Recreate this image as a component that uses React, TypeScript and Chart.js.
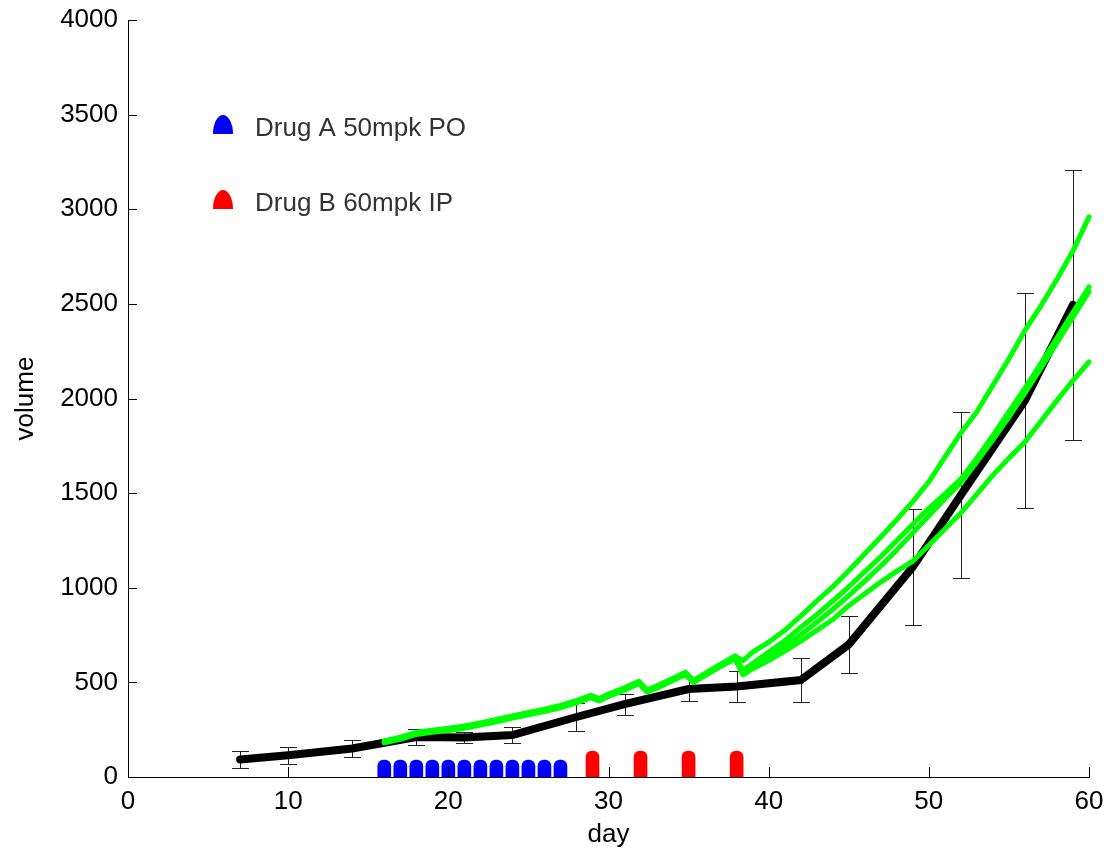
import React, { useEffect, useRef } from 'react';
import { Chart, registerables } from 'chart.js';

Chart.register(...registerables);

const FONT = "'Liberation Sans', Arial, Helvetica, sans-serif";

// ---- axis ticks ----
const xTickValues = [0, 10, 20, 30, 40, 50, 60];
const yTickValues = [0, 500, 1000, 1500, 2000, 2500, 3000, 3500, 4000];

// ---- mean tumour volume (black) with error bars ----
const meanDays = [7, 10, 14, 18, 21, 24, 28, 31, 35, 38, 42, 45, 49, 52, 56, 59];
const meanVol = [93, 115, 151, 211, 209, 222, 317, 385, 465, 478, 512, 700, 1110, 1490, 1990, 2495];
const meanErr = [45, 45, 45, 42, 29, 42, 76, 55, 65, 80, 117, 152, 307, 440, 570, 715];

// ---- model curves (green) ----
const greenDays = [
  16, 17, 18, 19, 20, 21, 22, 23, 24, 25, 26, 27, 28, 28.9, 29.4, 30, 31, 31.9, 32.4, 33, 34, 34.8, 35.3, 36, 37, 37.9,
  38.4, 39, 40, 41, 42, 43, 44, 45, 46, 47, 48, 49, 50, 51, 52, 53, 54, 55, 56, 57, 58, 59, 60,
];
const greenTop = [
  190, 210, 236, 247, 258, 270, 286, 304, 323, 341, 358, 378, 404, 431, 414, 438, 471, 506, 461, 481, 521, 554, 511, 546, 596, 640,
  615, 660, 712, 775, 850, 930, 1005, 1090, 1180, 1268, 1360, 1455, 1560, 1690, 1818, 1930, 2070, 2210, 2360, 2490, 2630, 2780, 2960,
];
const greenMid1 = [
  186, 206, 232, 243, 253, 265, 281, 299, 318, 336, 353, 373, 399, 426, 409, 433, 466, 501, 456, 476, 516, 549, 506, 541, 591, 632,
  565, 600, 660, 720, 790, 858, 930, 1005, 1085, 1165, 1250, 1335, 1420, 1495, 1575, 1685, 1805, 1930, 2055, 2185, 2320, 2455, 2590,
];
const greenMid2 = [
  183, 203, 229, 240, 250, 262, 278, 296, 315, 333, 350, 370, 396, 423, 406, 430, 463, 498, 453, 473, 513, 546, 503, 538, 588, 628,
  550, 580, 630, 690, 752, 818, 885, 958, 1035, 1115, 1200, 1290, 1380, 1470, 1555, 1665, 1782, 1902, 2028, 2160, 2295, 2430, 2565,
];
const greenLow = [
  180, 199, 225, 236, 246, 258, 274, 292, 311, 329, 346, 366, 392, 419, 402, 426, 459, 494, 449, 469, 509, 542, 499, 534, 584, 624,
  540, 572, 615, 665, 718, 775, 832, 905, 968, 1030, 1088, 1140, 1225, 1310, 1395, 1495, 1595, 1685, 1770, 1880, 1990, 2095, 2193,
];

// ---- dosing markers ----
const drugADays = [16, 17, 18, 19, 20, 21, 22, 23, 24, 25, 26, 27];
const drugAHeight = [90, 90, 90, 90, 90, 90, 90, 90, 90, 90, 90, 90];
const drugBDays = [29, 32, 35, 38];
const drugBHeight = [137, 137, 137, 137];

// ---- legend ----
const legendLabels = ['Drug A 50mpk PO', 'Drug B 60mpk IP'];
const legendColors = ['#0000ff', '#ff0000'];

const toXY = (xs: number[], ys: number[]) => xs.map((x, i) => ({ x, y: ys[i] }));

const errorBarPlugin = {
  id: 'errorBars',
  beforeDatasetsDraw(chart: any) {
    const { ctx, scales } = chart;
    const x = scales.x;
    const y = scales.y;
    ctx.save();
    ctx.strokeStyle = '#222';
    ctx.lineWidth = 1;
    meanDays.forEach((d, i) => {
      const px = Math.round(x.getPixelForValue(d)) + 0.5;
      const top = Math.round(y.getPixelForValue(meanVol[i] + meanErr[i])) + 0.5;
      const bot = Math.round(y.getPixelForValue(meanVol[i] - meanErr[i])) + 0.5;
      ctx.beginPath();
      ctx.moveTo(px, top);
      ctx.lineTo(px, bot);
      ctx.moveTo(px - 8.5, top);
      ctx.lineTo(px + 8.5, top);
      ctx.moveTo(px - 8.5, bot);
      ctx.lineTo(px + 8.5, bot);
      ctx.stroke();
    });
    ctx.restore();
  },
};

const tickMarkPlugin = {
  id: 'inwardTicks',
  afterDraw(chart: any) {
    const { ctx, scales, chartArea } = chart;
    const x = scales.x;
    const y = scales.y;
    ctx.save();
    ctx.strokeStyle = '#000';
    ctx.lineWidth = 1;
    ctx.beginPath();
    x.ticks.forEach((t: any) => {
      const px = Math.round(x.getPixelForValue(t.value)) + 0.5;
      ctx.moveTo(px, chartArea.bottom);
      ctx.lineTo(px, chartArea.bottom - 10);
    });
    y.ticks.forEach((t: any) => {
      const py = Math.round(y.getPixelForValue(t.value)) + 0.5;
      ctx.moveTo(chartArea.left, py);
      ctx.lineTo(chartArea.left + 9, py);
    });
    ctx.stroke();
    ctx.restore();
  },
};

const legendPlugin = {
  id: 'customLegend',
  afterDraw(chart: any) {
    const { ctx, chartArea } = chart;
    ctx.save();
    legendLabels.forEach((label, i) => {
      const baseY = chartArea.top + 114 + i * 75;
      const cx = chartArea.left + 95;
      ctx.fillStyle = legendColors[i];
      ctx.beginPath();
      ctx.ellipse(cx, baseY, 10, 19, 0, Math.PI, 2 * Math.PI);
      ctx.closePath();
      ctx.fill();
      ctx.fillStyle = '#333';
      ctx.font = `26px ${FONT}`;
      ctx.textAlign = 'left';
      ctx.textBaseline = 'alphabetic';
      ctx.fillText(label, chartArea.left + 127, baseY + 2);
    });
    ctx.restore();
  },
};

export default function App() {
  const canvasRef = useRef<HTMLCanvasElement | null>(null);

  useEffect(() => {
    const canvas = canvasRef.current;
    if (!canvas) return;
    const greenStyle = {
      type: 'line' as const,
      borderColor: '#00ff00',
      borderWidth: 5,
      pointRadius: 0,
      borderCapStyle: 'round' as const,
      borderJoinStyle: 'round' as const,
      tension: 0,
      clip: false as const,
      order: 0,
    };
    const chart = new Chart(canvas, {
      type: 'line',
      data: {
        datasets: [
          { ...greenStyle, label: 'model 1', data: toXY(greenDays, greenTop) },
          { ...greenStyle, label: 'model 2', data: toXY(greenDays, greenMid1) },
          { ...greenStyle, label: 'model 3', data: toXY(greenDays, greenMid2) },
          { ...greenStyle, label: 'model 4', data: toXY(greenDays, greenLow) },
          {
            type: 'line',
            label: 'mean',
            data: toXY(meanDays, meanVol),
            borderColor: '#000',
            borderWidth: 8,
            pointRadius: 0,
            borderCapStyle: 'round',
            borderJoinStyle: 'miter',
            tension: 0,
            order: 1,
          },
          {
            type: 'bar',
            label: legendLabels[0],
            data: toXY(drugADays, drugAHeight),
            backgroundColor: legendColors[0],
            barThickness: 13,
            borderRadius: 6,
            borderSkipped: 'start',
            grouped: false,
            order: 2,
          },
          {
            type: 'bar',
            label: legendLabels[1],
            data: toXY(drugBDays, drugBHeight),
            backgroundColor: legendColors[1],
            barThickness: 13,
            borderRadius: 6,
            borderSkipped: 'start',
            grouped: false,
            order: 2,
          },
        ] as any,
      },
      options: {
        animation: false,
        responsive: false,
        devicePixelRatio: 1,
        layout: { padding: { top: 20, right: 20, left: 0, bottom: 0 } },
        plugins: { legend: { display: false }, tooltip: { enabled: false } },
        scales: {
          x: {
            type: 'linear',
            min: 0,
            max: 60,
            offset: false,
            afterBuildTicks: (s: any) => {
              s.ticks = xTickValues.map((v) => ({ value: v }));
            },
            afterFit: (s: any) => {
              s.height = 77;
              s.paddingLeft = 0;
              s.paddingRight = 0;
            },
            grid: { display: false, drawTicks: false },
            border: { display: true, color: '#000', width: 1 },
            ticks: {
              color: '#000',
              font: { family: FONT, size: 26 },
              padding: 9,
              maxRotation: 0,
              autoSkip: false,
              callback: (v: any) => String(v),
            },
            title: {
              display: true,
              text: 'day',
              color: '#000',
              font: { family: FONT, size: 26 },
              padding: { top: 0, bottom: 4 },
            },
          },
          y: {
            type: 'linear',
            min: 0,
            max: 4000,
            afterBuildTicks: (s: any) => {
              s.ticks = yTickValues.map((v) => ({ value: v }));
            },
            afterFit: (s: any) => {
              s.width = 128;
              s.paddingTop = 0;
              s.paddingBottom = 0;
            },
            grid: { display: false, drawTicks: false },
            border: { display: true, color: '#000', width: 1 },
            ticks: {
              color: '#000',
              font: { family: FONT, size: 26 },
              padding: 10,
              autoSkip: false,
              callback: (v: any) => String(v),
            },
            title: {
              display: true,
              text: 'volume',
              color: '#000',
              font: { family: FONT, size: 26 },
              padding: { top: 10, bottom: 0 },
            },
          },
        },
      } as any,
      plugins: [errorBarPlugin, tickMarkPlugin, legendPlugin],
    });
    return () => chart.destroy();
  }, []);

  return (
    <div style={{ position: 'fixed', left: 0, top: 0, width: 1109, height: 854, background: '#fff' }}>
      <canvas ref={canvasRef} width={1109} height={854} style={{ display: 'block' }} />
    </div>
  );
}
